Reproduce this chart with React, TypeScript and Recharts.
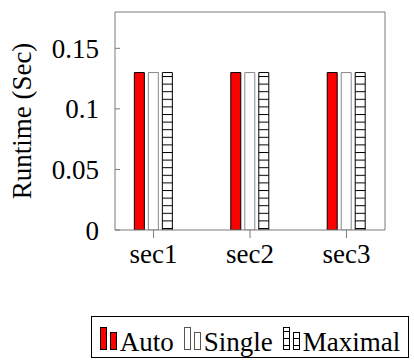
import React from 'react'
import { BarChart, Bar, XAxis, YAxis } from 'recharts'

const CATEGORIAS = ['sec1', 'sec2', 'sec3']
const POSICOES = [1, 2, 3]
const AUTO = [0.13, 0.13, 0.13]
const SINGLE = [0.13, 0.13, 0.13]
const MAXIMAL = [0.13, 0.13, 0.13]
const Y_TICKS = [0, 0.05, 0.1, 0.15]

const FONTE = "'Liberation Serif', Tinos, 'Times New Roman', Times, 'DejaVu Serif', serif"
const CINZA = '#7a7a7a'

const dados = POSICOES.map((x, i) => ({
  x,
  nome: CATEGORIAS[i],
  auto: AUTO[i],
  single: SINGLE[i],
  maximal: MAXIMAL[i],
}))

// ícone de legenda estilo pgfplots: barra alta + barra baixa
function Icone({ fill, borda, hatch }: { fill: string; borda: string; hatch?: boolean }) {
  const linhas = hatch ? [5, 12, 19] : []
  return (
    <svg width={17} height={24} style={{ display: 'block', marginRight: 3 }}>
      <rect x={0.5} y={1.5} width={6} height={22} fill={fill} stroke={borda} strokeWidth={1} />
      <rect x={10.5} y={6.5} width={6} height={17} fill={fill} stroke={borda} strokeWidth={1} />
      {linhas.map((y) => (
        <React.Fragment key={y}>
          {y > 1.5 && <line x1={0.5} x2={6.5} y1={y + 0.5} y2={y + 0.5} stroke="#000" />}
          {y > 6.5 && <line x1={10.5} x2={16.5} y1={y + 0.5} y2={y + 0.5} stroke="#000" />}
        </React.Fragment>
      ))}
    </svg>
  )
}

const ITENS_LEGENDA = [
  { nome: 'Auto', fill: '#ff0000', borda: '#000', hatch: false },
  { nome: 'Single', fill: '#ffffff', borda: '#555', hatch: false },
  { nome: 'Maximal', fill: '#ffffff', borda: '#000', hatch: true },
]

export default function App() {
  return (
    <div style={{ position: 'absolute', left: 0, top: 0, width: 414, height: 362, background: '#fff', fontFamily: FONTE }}>
      <BarChart
        width={414}
        height={362}
        data={dados}
        margin={{ top: 11, right: 28, left: 0, bottom: 92 }}
        barSize={10}
        barGap={4}
        style={{ fontFamily: FONTE }}
      >
        <defs>
          <pattern id="hlinhas" width={10} height={7.6} patternUnits="userSpaceOnUse">
            <rect width={10} height={7.6} fill="#fff" />
            <line x1={0} x2={10} y1={0.5} y2={0.5} stroke="#000" strokeWidth={1} />
          </pattern>
        </defs>
        <XAxis
          dataKey="x"
          type="number"
          domain={[0.6, 3.4]}
          ticks={POSICOES}
          tickFormatter={(v) => CATEGORIAS[Number(v) - 1]}
          stroke={CINZA}
          tickSize={8}
          tickMargin={6}
          tick={{ fontSize: 27, fill: '#000', fontFamily: FONTE }}
          height={40}
          allowDataOverflow
        />
        <XAxis
          xAxisId="topo"
          dataKey="x"
          type="number"
          orientation="top"
          domain={[0.6, 3.4]}
          ticks={POSICOES}
          tick={false}
          tickSize={8}
          stroke={CINZA}
          height={1}
        />
        <YAxis
          domain={[0, 0.18]}
          ticks={Y_TICKS}
          tickFormatter={(v) => String(v)}
          stroke={CINZA}
          tickSize={-5}
          tickMargin={17}
          tick={{ fontSize: 27, fill: '#000', fontFamily: FONTE, dx: -4 }}
          width={115}
          allowDataOverflow
          label={{
            value: 'Runtime (Sec)',
            angle: -90,
            position: 'insideLeft',
            dx: 16,
            dy: 0,
            style: { fontSize: 27, fill: '#000', fontFamily: FONTE, textAnchor: 'middle' },
          }}
        />
        <YAxis
          yAxisId="dir"
          orientation="right"
          domain={[0, 0.18]}
          ticks={Y_TICKS}
          tick={false}
          tickSize={-5}
          stroke={CINZA}
          width={1}
        />
        <Bar dataKey="auto" fill="#ff0000" stroke="#000" strokeWidth={1} isAnimationActive={false} />
        <Bar dataKey="single" fill="#ffffff" stroke="#888" strokeWidth={1} isAnimationActive={false} />
        <Bar dataKey="maximal" fill="url(#hlinhas)" stroke="#000" strokeWidth={1} isAnimationActive={false} />
      </BarChart>
      <div
        style={{
          position: 'absolute',
          left: 91,
          top: 316,
          width: 318,
          height: 42,
          boxSizing: 'border-box',
          border: '1px solid #000',
          fontFamily: FONTE,
          fontSize: 27,
          display: 'flex',
          alignItems: 'flex-end',
          justifyContent: 'center',
          paddingBottom: 7,
          whiteSpace: 'nowrap',
        }}
      >
        {ITENS_LEGENDA.map((it, i) => (
          <div key={it.nome} style={{ display: 'flex', alignItems: 'flex-end', marginLeft: i === 0 ? 0 : 10 }}>
            <Icone fill={it.fill} borda={it.borda} hatch={it.hatch} />
            <span style={{ lineHeight: '27px', display: 'block', marginBottom: -6 }}>{it.nome}</span>
          </div>
        ))}
      </div>
    </div>
  )
}
